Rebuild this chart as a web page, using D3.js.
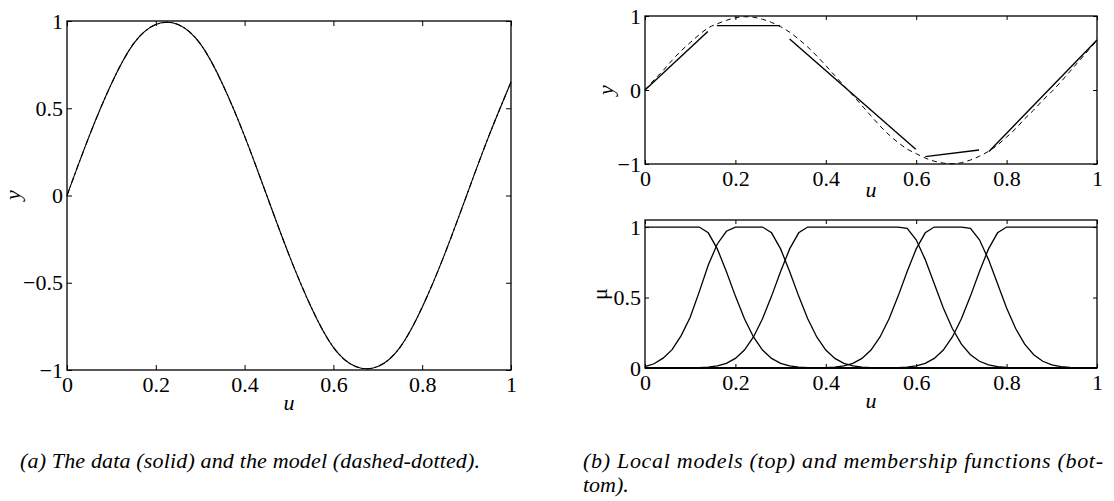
<!DOCTYPE html>
<html>
<head>
<meta charset="utf-8">
<script src="https://cdn.jsdelivr.net/npm/d3@7"></script>
<style>
  body { margin: 0; background: #fff; }
  svg { display: block; }
</style>
</head>
<body>
<div id="chart"></div>
<script>
// ---- panel (a): data and model ----
const uData = [0, 0.05, 0.1, 0.15, 0.2, 0.25, 0.3, 0.35, 0.4, 0.45, 0.5, 0.55, 0.6, 0.65, 0.7, 0.75, 0.8, 0.85, 0.9, 0.95, 1]
const yData = [0, 0.34, 0.64, 0.87, 0.98, 0.98, 0.87, 0.64, 0.34, 0, -0.34, -0.64, -0.87, -0.98, -0.98, -0.87, -0.64, -0.34, 0, 0.34, 0.65]
const yModel = [0, 0.34, 0.64, 0.87, 0.98, 0.98, 0.87, 0.64, 0.34, 0, -0.34, -0.64, -0.87, -0.98, -0.98, -0.87, -0.64, -0.34, 0, 0.34, 0.65]

// ---- panel (b): local models, global model, membership functions ----
const uGrid = [0, 0.02, 0.04, 0.06, 0.08, 0.1, 0.12, 0.14, 0.16, 0.18,
  0.2, 0.22, 0.24, 0.26, 0.28, 0.3, 0.32, 0.34, 0.36, 0.38,
  0.4, 0.42, 0.44, 0.46, 0.48, 0.5, 0.52, 0.54, 0.56, 0.58,
  0.6, 0.62, 0.64, 0.66, 0.68, 0.7, 0.72, 0.74, 0.76, 0.78,
  0.8, 0.82, 0.84, 0.86, 0.88, 0.9, 0.92, 0.94, 0.96, 0.98, 1]

const yGlobal = [0, 0.136, 0.263, 0.402, 0.529, 0.641, 0.747, 0.84, 0.895, 0.941,
  0.976, 0.99, 0.983, 0.956, 0.913, 0.855, 0.781, 0.687, 0.581, 0.46,
  0.33, 0.194, 0.06, -0.074, -0.211, -0.35, -0.486, -0.607, -0.71, -0.798,
  -0.86, -0.92, -0.962, -0.988, -0.997, -0.982, -0.946, -0.895, -0.828, -0.743,
  -0.636, -0.522, -0.39, -0.27, -0.14, -0.02, 0.11, 0.25, 0.39, 0.53, 0.67]

// local linear models: start/end u and start/end y
const localU = [[0, 0.139], [0.159, 0.299], [0.32, 0.599], [0.62, 0.739], [0.761, 1]]
const localY = [[0, 0.79], [0.87, 0.87], [0.69, -0.80], [-0.90, -0.81], [-0.83, 0.675]]

const mu1 = [1, 1, 1, 1, 1, 1, 1, 0.959, 0.845, 0.685,
  0.51, 0.349, 0.22, 0.127, 0.068, 0.033, 0.015, 0.006, 0.002, 0.001,
  0, 0, 0, 0, 0, 0, 0, 0, 0, 0,
  0, 0, 0, 0, 0, 0, 0, 0, 0, 0,
  0, 0, 0, 0, 0, 0, 0, 0, 0, 0, 0]
const mu2 = [0.01, 0.03, 0.07, 0.13, 0.23, 0.36, 0.54, 0.73, 0.88, 0.97,
  1, 1, 1, 1, 0.959, 0.845, 0.685, 0.51, 0.349, 0.22,
  0.127, 0.068, 0.033, 0.015, 0.006, 0.002, 0.001, 0, 0, 0,
  0, 0, 0, 0, 0, 0, 0, 0, 0, 0,
  0, 0, 0, 0, 0, 0, 0, 0, 0, 0, 0]
const mu3 = [0, 0, 0, 0, 0, 0.001, 0.002, 0.006, 0.015, 0.033,
  0.068, 0.127, 0.22, 0.349, 0.51, 0.685, 0.845, 0.959, 1, 1,
  1, 1, 1, 1, 1, 1, 1, 1, 1, 0.99,
  0.91, 0.769, 0.597, 0.426, 0.28, 0.169, 0.094, 0.048, 0.022, 0.01,
  0.004, 0.001, 0.001, 0, 0, 0, 0, 0, 0, 0, 0]
const mu4 = [0, 0, 0, 0, 0, 0, 0, 0, 0, 0,
  0, 0, 0, 0, 0, 0, 0, 0, 0, 0.001,
  0.002, 0.006, 0.015, 0.033, 0.068, 0.127, 0.22, 0.349, 0.51, 0.685,
  0.845, 0.959, 1, 1, 1, 1, 0.99, 0.91, 0.769, 0.597,
  0.426, 0.28, 0.169, 0.094, 0.048, 0.022, 0.01, 0.004, 0.001, 0.001, 0]
const mu5 = [0, 0, 0, 0, 0, 0, 0, 0, 0, 0,
  0, 0, 0, 0, 0, 0, 0, 0, 0, 0,
  0, 0, 0, 0, 0, 0, 0, 0.001, 0.002, 0.006,
  0.015, 0.033, 0.068, 0.127, 0.22, 0.349, 0.51, 0.685, 0.845, 0.959,
  1, 1, 1, 1, 1, 1, 1, 1, 1, 1, 1]

// ticks
const uTicks = [0, 0.2, 0.4, 0.6, 0.8, 1]
const uTickLabels = ["0", "0.2", "0.4", "0.6", "0.8", "1"]
const yTicksA = [-1, -0.5, 0, 0.5, 1]
const yTickLabelsA = ["\u22121", "\u22120.5", "0", "0.5", "1"]
const yTicksTop = [-1, 0, 1]
const yTickLabelsTop = ["\u22121", "0", "1"]
const muTicks = [0, 0.5, 1]
const muTickLabels = ["0", "0.5", "1"]

const captionA = "(a) The data (solid) and the model (dashed-dotted)."
const captionB1 = "(b) Local models (top) and membership functions (bot-"
const captionB2 = "tom)."

// ---- drawing ----
const width = 1114, height = 501
const serif = '"Liberation Serif", "Times New Roman", serif'
const fontSize = 22

const svg = d3.select("#chart").append("svg")
    .attr("width", width)
    .attr("height", height)
    .style("background", "#fff")

// box with inward ticks on all four sides
const frame = function (x, y, yTicks, yLabels, tick) {
    const [x0, x1] = x.range()
    const [y0, y1] = y.range()
    const g = svg.append("g")

    const styleAxis = sel => {
        sel.select(".domain").remove()
        sel.attr("font-family", serif).attr("font-size", fontSize)
        sel.selectAll("line").attr("stroke", "#000").attr("stroke-width", 1)
        sel.selectAll("text").attr("fill", "#000")
    }

    g.append("g").attr("transform", `translate(0,${y0})`)
        .call(d3.axisBottom(x).tickValues(uTicks).tickFormat((d, i) => uTickLabels[i])
            .tickSizeInner(-tick).tickSizeOuter(0).tickPadding(6))
        .call(styleAxis)
    g.append("g").attr("transform", `translate(0,${y1})`)
        .call(d3.axisTop(x).tickValues(uTicks).tickFormat("")
            .tickSizeInner(-tick).tickSizeOuter(0))
        .call(styleAxis)
    g.append("g").attr("transform", `translate(${x0},0)`)
        .call(d3.axisLeft(y).tickValues(yTicks).tickFormat((d, i) => yLabels[i])
            .tickSizeInner(-tick).tickSizeOuter(0).tickPadding(4))
        .call(styleAxis)
    g.append("g").attr("transform", `translate(${x1},0)`)
        .call(d3.axisRight(y).tickValues(yTicks).tickFormat("")
            .tickSizeInner(-tick).tickSizeOuter(0))
        .call(styleAxis)

    g.append("rect")
        .attr("x", x0).attr("y", y1)
        .attr("width", x1 - x0).attr("height", y0 - y1)
        .attr("fill", "none").attr("stroke", "#000").attr("stroke-width", 1.3)
    return g
}

const label = function (txt, x, y, rotate, italic) {
    svg.append("text")
        .attr("transform", `translate(${x},${y})` + (rotate ? " rotate(-90)" : ""))
        .attr("text-anchor", "middle")
        .attr("font-family", serif)
        .attr("font-size", fontSize)
        .attr("font-style", italic ? "italic" : "normal")
        .attr("fill", "#000")
        .text(txt)
}

// panel (a)
const xA = d3.scaleLinear().domain([0, 1]).range([67, 511])
const yA = d3.scaleLinear().domain([-1, 1]).range([370, 21])
frame(xA, yA, yTicksA, yTickLabelsA, 5)

const lineA = d3.line().curve(d3.curveNatural)
svg.append("path")
    .attr("d", lineA(uData.map((u, i) => [xA(u), yA(yData[i])])))
    .attr("fill", "none").attr("stroke", "#000").attr("stroke-width", 1.1)
svg.append("path")
    .attr("d", lineA(uData.map((u, i) => [xA(u), yA(yModel[i])])))
    .attr("fill", "none").attr("stroke", "#000").attr("stroke-width", 1.1)
    .attr("stroke-dasharray", "6,3,1.5,3")

label("u", 289, 410, false, true)
label("y", 20, 195, true, true)

// panel (b) top: local models
const xB = d3.scaleLinear().domain([0, 1]).range([645, 1097])
const yB = d3.scaleLinear().domain([-1, 1]).range([164, 16])
frame(xB, yB, yTicksTop, yTickLabelsTop, 4)

svg.append("path")
    .attr("d", d3.line().curve(d3.curveMonotoneX)(uGrid.map((u, i) => [xB(u), yB(yGlobal[i])])))
    .attr("fill", "none").attr("stroke", "#000").attr("stroke-width", 1)
    .attr("stroke-dasharray", "5,4")

svg.selectAll(".local")
    .data(localU)
    .enter().append("line")
    .attr("class", "local")
    .attr("x1", d => xB(d[0])).attr("x2", d => xB(d[1]))
    .attr("y1", (d, i) => yB(localY[i][0])).attr("y2", (d, i) => yB(localY[i][1]))
    .attr("stroke", "#000").attr("stroke-width", 1.4)

label("u", 871, 197, false, true)
label("y", 613, 90, true, true)

// panel (b) bottom: membership functions
const yM = d3.scaleLinear().domain([0, 1.05]).range([368, 220])
frame(xB, yM, muTicks, muTickLabels, 4)

svg.selectAll(".mf")
    .data([mu1, mu2, mu3, mu4, mu5])
    .enter().append("path")
    .attr("class", "mf")
    .attr("d", mu => d3.line()(uGrid.map((u, i) => [xB(u), yM(mu[i])])))
    .attr("fill", "none").attr("stroke", "#000").attr("stroke-width", 1.3)

label("u", 871, 408, false, true)
label("\u03bc", 607, 294, true, false)

// captions
svg.append("text")
    .attr("x", 20).attr("y", 468)
    .attr("font-family", serif).attr("font-size", fontSize).attr("font-style", "italic")
    .attr("fill", "#000")
    .attr("textLength", 460).attr("lengthAdjust", "spacing")
    .text(captionA)
svg.append("text")
    .attr("x", 583).attr("y", 468)
    .attr("font-family", serif).attr("font-size", fontSize).attr("font-style", "italic")
    .attr("fill", "#000")
    .attr("textLength", 520).attr("lengthAdjust", "spacing")
    .text(captionB1)
svg.append("text")
    .attr("x", 583).attr("y", 492)
    .attr("font-family", serif).attr("font-size", fontSize).attr("font-style", "italic")
    .attr("fill", "#000")
    .text(captionB2)
</script>
</body>
</html>
